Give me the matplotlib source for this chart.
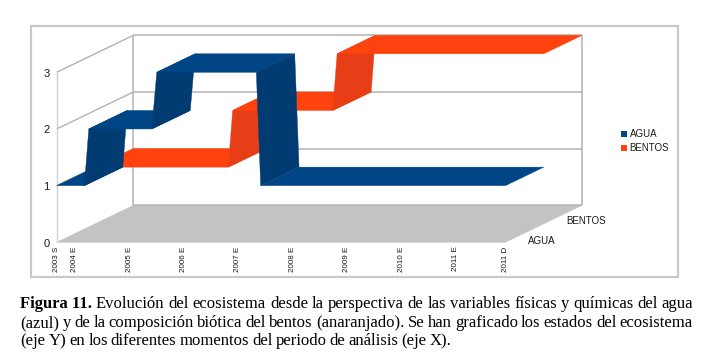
import matplotlib
matplotlib.use('Agg')
import matplotlib.pyplot as plt
from matplotlib.patches import Rectangle

W, H = 712, 360

# Decimal years (date axis)
agua_dates = [2003.67, 2004.18, 2004.26, 2005.42, 2005.51, 2007.34, 2007.42, 2011.92]
agua_values = [1, 1, 2, 2, 3, 3, 1, 1]
bentos_dates = [2003.67, 2006.12, 2006.20, 2008.04, 2008.12, 2011.92]
bentos_values = [1, 1, 2, 2, 3, 3]

tick_years = [2003.67, 2004, 2005, 2006, 2007, 2008, 2009, 2010, 2011, 2011.92]
tick_labels = ['2003 S', '2004 E', '2005 E', '2006 E', '2007 E', '2008 E',
               '2009 E', '2010 E', '2011 E', '2011 D']
levels = [0, 1, 2, 3]
series_names = ['AGUA', 'BENTOS']

caption_line1 = 'Evolución del ecosistema desde la perspectiva de las variables físicas y químicas del agua'
caption_line2 = '(azul) y de la composición biótica del bentos (anaranjado). Se han graficado los estados del ecosistema'
caption_line3 = '(eje Y) en los diferentes momentos del periodo de análisis (eje X).'

BLUE, BLUE_DARK = '#004586', '#003b72'
ORANGE, ORANGE_DARK = '#ff420e', '#e83e17'
GRID = '#b3b3b3'
INK = '#1a1a1a'

# scales: pixels per year, pixels per level, and the oblique depth shift
X0, Y0 = 56.7, 242.3
PX_YEAR, PX_LEVEL = 54.4, 56.67
DEPTH_X, DEPTH_Y = 76.7 / PX_YEAR, 37.0 / PX_LEVEL
YEAR_MIN, YEAR_MAX = tick_years[0], tick_years[-1]

fig = plt.figure(figsize=(W / 100, H / 100), dpi=100)
ax = fig.add_axes([0, 0, 1, 1])
ax.set_xlim(YEAR_MIN - X0 / PX_YEAR, YEAR_MIN + (W - X0) / PX_YEAR)
ax.set_ylim((Y0 - H) / PX_LEVEL, Y0 / PX_LEVEL)
ax.axis('off')
plt.rcParams['font.family'] = ['Liberation Sans', 'DejaVu Sans']


def project(year, level, depth=0.0):
    return year + depth * DEPTH_X, level + depth * DEPTH_Y


def face(corners, **kw):
    pts = [project(*c) for c in corners]
    ax.fill([p[0] for p in pts], [p[1] for p in pts], linewidth=0.3, **kw)


def line(a, b, **kw):
    pa, pb = project(*a), project(*b)
    ax.plot([pa[0], pb[0]], [pa[1], pb[1]], solid_capstyle='butt', **kw)


def px(x, y):
    return x / W, 1 - y / H


def draw_series(dates, values, d0, d1, flat, riser):
    for i in range(len(dates) - 1):
        t0, t1, v0, v1 = dates[i], dates[i + 1], values[i], values[i + 1]
        color = flat if v0 == v1 else riser
        face([(t0, v0, d0), (t1, v1, d0), (t1, v1, d1), (t0, v0, d1)],
             facecolor=color, edgecolor=color, zorder=3)


# frame round the chart
fig.add_artist(Rectangle(px(31, 277.3), 647 / W, 251 / H, transform=fig.transFigure,
                         facecolor='white', edgecolor='#c9c9c9', linewidth=1.6, zorder=-1))

# floor
face([(YEAR_MIN, 0, 0), (YEAR_MAX, 0, 0), (YEAR_MAX, 0, 1), (YEAR_MIN, 0, 1)],
     facecolor='#c3c3c3', edgecolor='#c3c3c3', zorder=1)

# walls and gridlines
for lev in levels:
    line((YEAR_MIN, lev, 1), (YEAR_MAX, lev, 1), color=GRID, lw=1.1, zorder=2)
    if lev > 0:
        line((YEAR_MIN, lev, 0), (YEAR_MIN, lev, 1), color=GRID, lw=1.0, zorder=2)
line((YEAR_MIN, 0, 0), (YEAR_MIN, 3, 0), color='#d0d0d0', lw=1.0, zorder=2)
line((YEAR_MIN, 0, 1), (YEAR_MIN, 3, 1), color=GRID, lw=1.1, zorder=2)
line((YEAR_MAX, 0, 1), (YEAR_MAX, 3, 1), color=GRID, lw=1.1, zorder=2)

# series, back one first
draw_series(bentos_dates, bentos_values, 0.5, 1.0, ORANGE, ORANGE_DARK)
draw_series(agua_dates, agua_values, 0.0, 0.5, BLUE, BLUE_DARK)

# axis labels
for lev in levels:
    ax.text(YEAR_MIN - 7 / PX_YEAR, lev - 1.5 / PX_LEVEL, str(lev), ha='right', va='center',
            fontsize=8, color=INK)
for t, lab in zip(tick_years, tick_labels):
    fig.text(*px(X0 + (t - YEAR_MIN) * PX_YEAR, 246.5), lab, rotation=90, ha='center', va='top',
             fontsize=5.8, color=INK)
fig.text(*px(527.7, 240.5), series_names[0], ha='left', va='center', fontsize=7, color=INK)
fig.text(*px(566.7, 221.5), series_names[1], ha='left', va='center', fontsize=7, color=INK)

# legend
for name, color, y in zip(series_names, [BLUE, ORANGE], [134.3, 148]):
    fig.add_artist(Rectangle(px(621, y + 3), 6 / W, 6 / H, transform=fig.transFigure,
                             facecolor=color, edgecolor='none'))
    fig.text(*px(629.7, y), name, ha='left', va='center', fontsize=7, color=INK)

# caption, first two lines justified to the right margin
renderer = fig.canvas.get_renderer()
SERIF = 'Liberation Serif'
CAP_SIZE = 12.0
LEFT, RIGHT = 20.5, 693.0


def set_words(words, x_start, y, justify):
    items = [fig.text(*px(0, y), w, family=SERIF, fontsize=CAP_SIZE, color='black', va='baseline')
             for w in words]
    widths = [t.get_window_extent(renderer).width for t in items]
    space = 3.1
    if justify:
        space = (RIGHT - x_start - sum(widths)) / (len(words) - 1)
    x = x_start
    for t, w in zip(items, widths):
        t.set_position(px(x, y))
        x += w + space


head = fig.text(*px(LEFT, 308.5), 'Figura 11.', family=SERIF, fontsize=CAP_SIZE, fontweight='bold',
                color='black', va='baseline')
head_w = head.get_window_extent(renderer).width
set_words(caption_line1.split(), LEFT + head_w + 3.5, 308.5, True)
set_words(caption_line2.split(), LEFT, 327.0, True)
set_words(caption_line3.split(), LEFT, 345.0, False)

fig.savefig('out.png', dpi=100, facecolor='white')
